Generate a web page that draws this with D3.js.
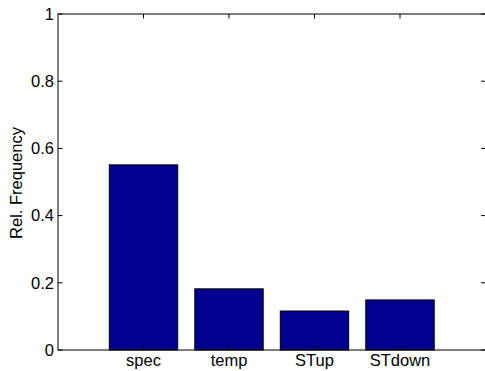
<!DOCTYPE html>
<html><head><meta charset="utf-8">
<script src="https://cdn.jsdelivr.net/npm/d3@7"></script>
<style>body{margin:0;background:#fff}svg{display:block}text{font-family:"Liberation Sans",Arial,sans-serif}</style>
</head><body>
<script>
const categories = ["spec", "temp", "STup", "STdown"];
const values = [0.551, 0.182, 0.116, 0.149];
const yTicks = [0, 0.2, 0.4, 0.6, 0.8, 1];
const yTickLabels = ["0", "0.2", "0.4", "0.6", "0.8", "1"];
const yLabel = "Rel. Frequency";

const W = 485, H = 371;
const L = 58, R = 485.5, T = 14, B = 350;
const FS = 16.5;
const svg = d3.select("body").append("svg").attr("width", W).attr("height", H);

const x = d3.scaleLinear().domain([0, 5]).range([L, R]);
const y = d3.scaleLinear().domain([0, 1]).range([B, T]);
const bw = 0.8;

svg.append("g").selectAll("rect").data(values).join("rect")
  .attr("x", (d, i) => x(i + 1 - bw / 2))
  .attr("y", d => y(d))
  .attr("width", x(bw) - x(0))
  .attr("height", d => y(0) - y(d))
  .attr("fill", "#00008f")
  .attr("stroke", "#000")
  .attr("stroke-width", 1);

const tl = 4.5;
const g = svg.append("g").attr("stroke", "#000").attr("stroke-width", 1).attr("fill", "none");
g.append("rect").attr("x", L).attr("y", T).attr("width", R - L).attr("height", B - T);
yTicks.forEach(v => {
  g.append("line").attr("x1", L).attr("x2", L + tl).attr("y1", y(v)).attr("y2", y(v));
  g.append("line").attr("x1", R).attr("x2", R - tl).attr("y1", y(v)).attr("y2", y(v));
});
categories.forEach((c, i) => {
  g.append("line").attr("x1", x(i + 1)).attr("x2", x(i + 1)).attr("y1", B).attr("y2", B - tl);
  g.append("line").attr("x1", x(i + 1)).attr("x2", x(i + 1)).attr("y1", T).attr("y2", T + tl);
});

svg.append("g").selectAll("text").data(yTicks).join("text")
  .attr("x", L - 4).attr("y", d => y(d)).attr("dy", "0.35em")
  .attr("text-anchor", "end").attr("font-size", FS).attr("fill", "#000")
  .text((d, i) => yTickLabels[i]);

svg.append("g").selectAll("text").data(categories).join("text")
  .attr("x", (d, i) => x(i + 1)).attr("y", 366)
  .attr("text-anchor", "middle").attr("font-size", FS).attr("fill", "#000")
  .text(d => d);

svg.append("text").attr("transform", `translate(21.5,183) rotate(-90)`)
  .attr("text-anchor", "middle").attr("font-size", FS).attr("fill", "#000")
  .text(yLabel);
</script>
</body></html>
